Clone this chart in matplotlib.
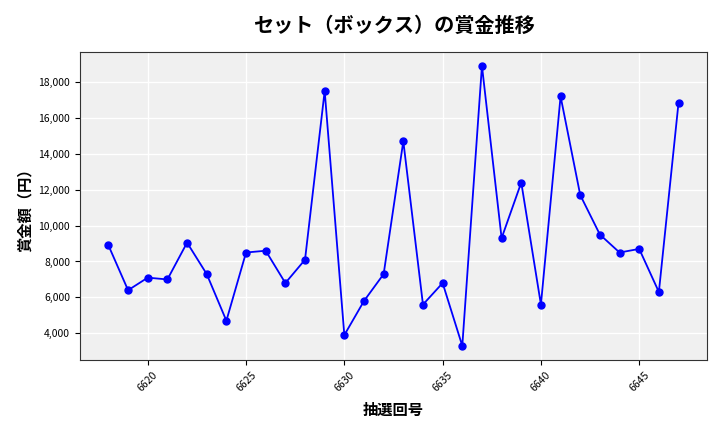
import matplotlib
matplotlib.use("Agg")
import matplotlib.pyplot as plt
from matplotlib.ticker import FuncFormatter

plt.rcParams['font.family'] = ['Noto Sans CJK JP', 'DejaVu Sans']

# data
draws = list(range(6618, 6648))
prizes = [8900, 6400, 7100, 7000, 9050, 7300, 4700, 8500, 8600, 6800,
          8100, 17500, 3900, 5800, 7300, 14700, 5600, 6800, 3300, 18900,
          9300, 12400, 5600, 17200, 11700, 9500, 8500, 8700, 6300, 16850]

fig, ax = plt.subplots(figsize=(7.2, 4.32), dpi=100)
ax.set_facecolor('#f0f0f0')
ax.grid(True, color='white', linewidth=1.0)
ax.set_axisbelow(True)

ax.plot(draws, prizes, color='blue', marker='o', markersize=5, linewidth=1.3)

ax.set_title('セット（ボックス）の賞金推移', fontsize=14.5, fontweight='bold', pad=14)
ax.set_xlabel('抽選回号', fontsize=11, fontweight='bold', labelpad=6)
ax.set_ylabel('賞金額（円）', fontsize=11, fontweight='bold')
ax.yaxis.set_major_formatter(FuncFormatter(lambda v, p: '{:,.0f}'.format(v)))
ax.tick_params(axis='both', labelsize=7.5)
plt.setp(ax.get_xticklabels(), rotation=45)

for s in ax.spines.values():
    s.set_color('#333333')

fig.subplots_adjust(left=0.111, right=0.982, top=0.880, bottom=0.167)
fig.savefig('out.png', dpi=100)
